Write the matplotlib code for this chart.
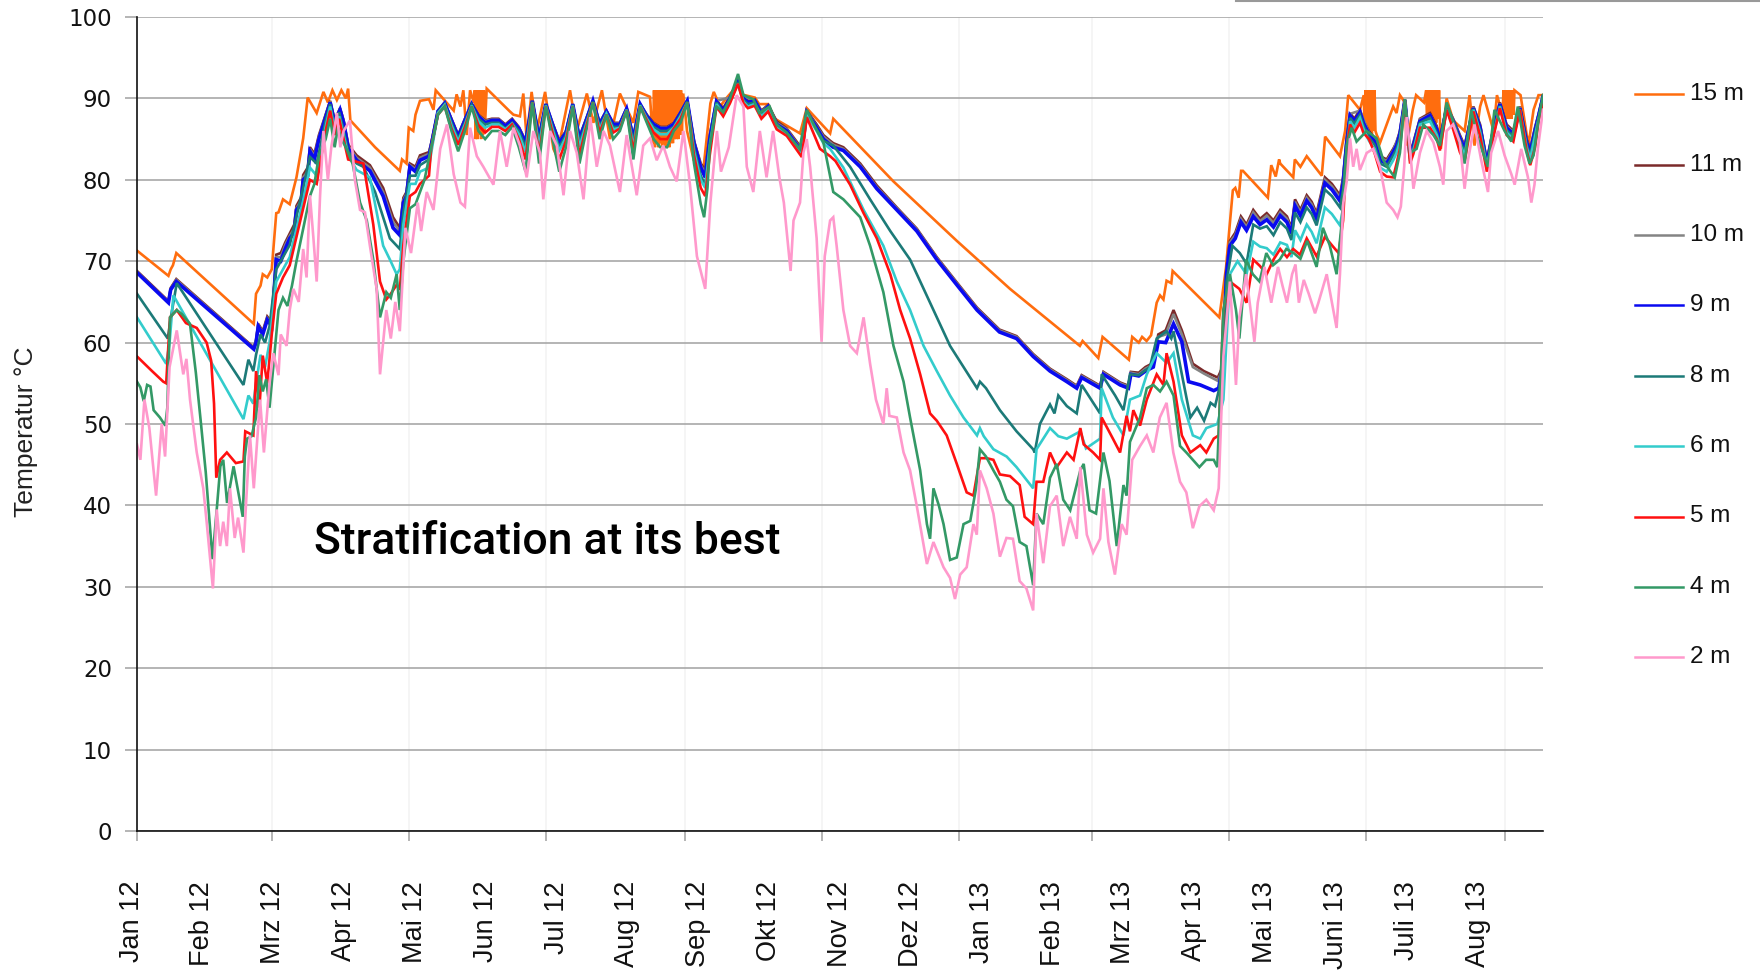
import matplotlib
matplotlib.use("Agg")
import matplotlib.pyplot as plt
from matplotlib.lines import Line2D
import matplotlib.transforms as mtransforms

# measured temperatures, (day since 1 Jan 2012, deg C)
s15 = [(0, 71.3), (14, 68.2), (15, 69.0), (16, 69.5), (17.5, 71.0), (52, 62.3), (53, 66.0), (55, 67.0), (56, 68.4),
       (58, 68.0), (60, 69.0), (62, 75.9), (63, 76.0), (65, 77.6), (68, 77.0), (71, 80.3), (74, 85.1), (76, 90.1),
       (80, 88.2), (83, 90.8), (85, 89.5), (87, 91.0), (89, 89.8), (91, 91.0), (93, 90.0), (94, 91.2), (95, 87.3),
       (101, 85.5), (106, 84.0), (117, 81.1), (118, 82.5), (120, 82.0), (121, 86.4), (123, 86.0), (124, 88.0),
       (126, 89.7), (130, 89.9), (132, 88.6), (133, 91.0), (139.4, 89.0), (141, 88.5), (142.3, 90.5), (144, 89.0),
       (145.3, 91.0), (146.8, 85.5), (148.3, 91.0), (150, 89.5), (150.4, 91.0), (150.8, 85.0), (151.2, 91.0),
       (151.6, 85.0), (152.0, 91.0), (152.4, 85.5), (152.8, 91.0), (153.2, 85.0), (153.6, 91.0), (154.0, 85.5),
       (154.4, 91.0), (154.8, 86.0), (155.7, 91.2), (166, 88.4), (167.6, 88.0), (170.5, 87.8), (172, 90.6),
       (173.5, 85.0), (175.7, 90.8), (178, 86.0), (181.7, 90.8), (185.4, 83.8), (186.9, 82.9), (192.8, 91.0),
       (195.8, 86.0), (200.3, 90.6), (203.2, 87.0), (207, 91.0), (210.6, 85.0), (215, 90.6), (221, 87.0),
       (223.2, 90.8), (228.4, 90.2), (229.8, 84.5), (230.2, 91.0), (230.6, 84.0), (231.0, 91.0), (231.4, 84.5),
       (231.8, 91.0), (232.2, 84.0), (232.6, 91.0), (233.0, 84.5), (233.4, 91.0), (233.8, 84.0), (234.2, 91.0),
       (234.6, 84.5), (235.0, 91.0), (235.4, 84.0), (235.8, 91.0), (236.2, 84.5), (236.6, 91.0), (237.0, 84.0),
       (237.4, 91.0), (237.8, 84.5), (238.2, 91.0), (238.6, 84.5), (239.0, 91.0), (239.4, 85.0), (239.8, 91.0),
       (240.2, 85.0), (240.6, 91.0), (241.0, 85.0), (241.4, 91.0), (241.8, 85.5), (242.2, 91.0), (242.6, 86.0),
       (243.2, 90.6), (244.9, 86.0), (247.9, 82.4), (252.3, 81.6), (255.3, 89.4), (256.8, 90.8), (259.6, 89.0),
       (262, 89.9), (267.6, 91.7), (269, 90.5), (275.1, 90.1), (277, 89.3), (281, 89.3), (284, 87.5),
       (295.2, 85.7), (298.2, 88.8), (308.6, 85.7), (310, 87.5), (336.8, 79.8), (365, 72.5), (388.7, 66.6),
       (419.8, 59.6), (421, 60.2), (428, 58.1), (429.9, 60.7), (441.6, 57.9), (443.1, 60.7), (446, 60.0),
       (447.5, 60.7), (449.5, 60.2), (451.5, 60.9), (454, 64.9), (455.5, 65.8), (457, 65.3), (458.4, 67.6),
       (460.5, 67.3), (461.1, 68.8), (481.9, 63.1), (483.4, 66.2), (484.9, 69.3), (486.4, 74.1), (487.9, 78.7),
       (489, 79.0), (490.5, 77.8), (491.6, 81.1), (492.4, 81.1), (503.5, 77.8), (505, 81.8), (507, 80.4),
       (508.5, 82.5), (509, 82.0), (514.8, 80.3), (515.5, 82.5), (518, 81.6), (520.8, 82.9), (527.5, 80.5),
       (529, 85.3), (535.6, 82.9), (537.9, 86.0), (539.3, 90.4), (544.5, 88.6), (546.2, 90.4), (546.6, 86.0),
       (547.0, 91.0), (547.4, 85.5), (547.8, 91.0), (548.2, 85.5), (548.6, 91.0), (549.0, 85.5), (549.4, 91.0),
       (549.8, 85.5), (550.2, 91.0), (550.6, 86.0), (551.0, 91.0), (551.4, 86.0), (552, 85.5), (553.5, 84.6),
       (556.4, 86.8), (559.3, 89.0), (560.8, 88.2), (562.3, 90.4), (564.5, 89.5), (565.3, 84.2), (568, 88.6),
       (569.5, 90.4), (573, 89.5), (574.0, 91.0), (574.4, 87.0), (574.8, 91.0), (575.2, 87.0), (575.6, 91.0),
       (576.0, 87.0), (576.4, 91.0), (576.8, 87.0), (577.2, 91.0), (577.6, 87.0), (578.0, 91.0), (578.4, 87.0),
       (578.8, 91.0), (579.2, 87.5), (579.7, 91.0), (580.5, 83.8), (583.1, 90.0), (586, 87.3), (591.1, 86.0),
       (593.3, 90.4), (595.5, 84.2), (598, 89.0), (599.5, 90.4), (604, 86.0), (605.5, 90.4), (608.0, 88.0),
       (608.4, 91.0), (608.8, 87.5), (609.2, 91.0), (609.6, 87.5), (610.0, 91.0), (610.4, 87.5), (610.8, 91.0),
       (611.2, 87.5), (611.6, 91.0), (612.0, 87.5), (612.4, 91.0), (612.9, 88.0), (613.3, 91.0), (616, 90.4),
       (619.5, 84.2), (621.8, 88.6), (624, 90.4), (626, 90.4)]

s11 = [(0, 68.8), (14, 65.1), (15, 66.7), (17.5, 67.8), (52, 59.4), (53, 60.3), (54, 62.3), (56, 61.4), (58, 63.2),
       (60, 62.5), (62, 70.8), (64, 71.0), (66, 72.3), (68, 73.4), (70, 74.5), (71, 76.8), (73, 77.8), (74, 80.6),
       (76, 81.5), (77, 84.0), (79, 83.2), (81, 85.5), (84, 88.0), (86, 89.7), (88, 87.3), (90.4, 88.8), (92, 87.3),
       (94.1, 84.3), (97.8, 83.0), (103.7, 81.8), (109.6, 79.0), (114, 75.4), (117, 74.1), (118.6, 77.8),
       (120, 78.5), (121.5, 82.0), (124, 81.6), (126, 83.0), (130, 83.4), (131, 84.5), (134, 88.5), (137, 89.5),
       (140, 87.5), (143, 85.5), (146, 87.5), (149, 89.3), (152, 88.0), (155, 87.3), (158, 87.5), (161, 87.5),
       (164, 86.8), (167, 87.5), (170, 86.5), (173, 84.8), (176, 89.7), (179, 85.3), (182, 89.3), (185, 87.0),
       (188, 84.8), (191, 86.0), (194, 89.3), (197, 85.3), (200, 87.5), (203, 89.7), (206, 87.0), (209, 88.5),
       (212, 87.0), (215, 87.0), (218, 88.8), (221, 85.3), (224, 89.3), (227, 88.0), (230, 87.0), (233, 86.5),
       (236, 86.5), (239, 87.0), (242, 88.3), (245, 89.7), (248, 84.8), (251, 82.0), (253, 81.2), (255, 85.5),
       (258, 89.7), (261, 88.8), (264, 90.2), (267.6, 92.2), (270, 90.3), (272, 89.7), (275, 89.9), (278, 88.5),
       (281, 89.2), (284.8, 87.2), (289.3, 86.3), (294.5, 84.4), (296, 84.0), (298.2, 88.5), (302.6, 86.8),
       (305.6, 85.5), (308.6, 84.8), (310, 84.5), (314.5, 84.0), (322, 82.0), (329.4, 79.3), (338.3, 76.6),
       (347.2, 74.0), (356.1, 70.5), (365, 67.4), (374, 64.3), (384, 61.6), (391.6, 60.8), (399, 58.6),
       (406.5, 56.8), (414, 55.5), (418.4, 54.7), (420.6, 56.0), (428.8, 54.7), (430.3, 56.4), (437.7, 55.1),
       (441.4, 54.7), (442.5, 56.4), (446, 56.3), (449, 57.0), (452.5, 57.5), (454.7, 61.0), (458, 61.5),
       (461.5, 64.0), (465.2, 61.5), (470.1, 57.4), (475, 56.5), (481.2, 55.7), (483, 56.8), (485, 69.0),
       (486.6, 72.5), (489, 73.5), (491.5, 75.5), (494, 74.5), (497, 76.3), (500, 75.2), (503, 75.9), (506, 75.0),
       (509, 76.3), (512, 75.5), (514, 74.1), (515.6, 77.6), (518, 76.3), (520.8, 78.1), (523, 77.3),
       (525.2, 75.9), (528.9, 80.3), (532, 79.5), (535.6, 78.1), (537, 80.3), (538.6, 85.1), (540.1, 88.2),
       (542, 87.5), (544.5, 88.6), (546, 87.3), (548.5, 86.0), (551, 85.1), (553.5, 82.9), (556.4, 82.5),
       (559.3, 83.8), (560.8, 84.6), (562.3, 86.0), (564.5, 89.9), (566.8, 83.3), (568.3, 84.6), (571.2, 87.5),
       (575.7, 88.2), (578.7, 86.6), (580.1, 85.1), (583.1, 89.0), (586, 87.5), (589, 85.5), (591.1, 84.2),
       (595, 89.0), (598, 86.8), (601, 82.4), (604, 86.5), (606.8, 89.5), (609.8, 86.8), (612.8, 86.0),
       (615.7, 89.0), (618.7, 85.0), (620.3, 83.8), (622.5, 86.5), (624, 88.0), (626, 90.4)]

s10 = [(0, 68.7), (14, 65.0), (15, 66.6), (17.5, 67.7), (52, 59.3), (53, 60.2), (54, 62.2), (56, 61.2), (58, 63.0),
       (60, 62.3), (62, 70.5), (64, 70.5), (66, 72.0), (68, 73.1), (70, 74.0), (71, 76.5), (73, 77.4), (74, 80.3),
       (76, 81.0), (77, 83.8), (79, 82.9), (81, 85.3), (84, 87.9), (86, 89.6), (88, 87.2), (90.4, 88.7), (92, 87.2),
       (94.1, 84.1), (97.8, 82.7), (103.7, 81.5), (109.6, 78.5), (114, 74.8), (117, 73.7), (118.6, 77.5),
       (120, 78.3), (121.5, 81.8), (124, 81.3), (126, 82.7), (130, 83.2), (131, 84.4), (134, 88.5), (137, 89.5),
       (140, 87.4), (143, 85.4), (146, 87.4), (149, 89.3), (152, 87.9), (155, 87.2), (158, 87.4), (161, 87.4),
       (164, 86.7), (167, 87.4), (170, 86.4), (173, 84.7), (176, 89.7), (179, 85.2), (182, 89.3), (185, 86.9),
       (188, 84.7), (191, 85.9), (194, 89.3), (197, 85.2), (200, 87.4), (203, 89.7), (206, 86.9), (209, 88.5),
       (212, 86.9), (215, 86.9), (218, 88.8), (221, 85.2), (224, 89.3), (227, 87.9), (230, 86.9), (233, 86.4),
       (236, 86.4), (239, 86.9), (242, 88.3), (245, 89.7), (248, 84.7), (251, 81.8), (253, 80.8), (255, 85.3),
       (258, 89.7), (264, 90.1), (267.6, 92.1), (270, 90.2), (275, 89.8), (278, 88.4), (281, 89.1), (284.8, 87.0),
       (289.3, 86.2), (294.5, 84.2), (296, 83.8), (298.2, 88.4), (302.6, 86.6), (305.6, 85.3), (310, 84.3),
       (314.5, 83.8), (322, 81.8), (329.4, 79.1), (338.3, 76.5), (347.2, 73.9), (356.1, 70.4), (365, 67.3),
       (374, 64.2), (384, 61.5), (391.6, 60.7), (399, 58.5), (406.5, 56.7), (414, 55.4), (418.4, 54.6),
       (420.6, 55.9), (428.8, 54.6), (430.3, 56.3), (437.7, 55.0), (441.4, 54.6), (442.5, 56.3), (446, 56.1),
       (449, 56.8), (452.5, 57.3), (454.7, 60.7), (458, 61.0), (461.5, 63.5), (465.2, 61.0), (470.1, 57.0),
       (475, 56.2), (481.2, 55.3), (483, 56.5), (485, 68.8), (486.6, 72.3), (489, 73.2), (491.5, 75.2),
       (494, 74.2), (497, 76.0), (500, 74.9), (503, 75.6), (506, 74.7), (509, 76.0), (512, 75.2), (514, 73.8),
       (515.6, 77.3), (518, 76.0), (520.8, 77.8), (523, 77.0), (525.2, 75.6), (528.9, 80.0), (532, 79.2),
       (535.6, 77.8), (537, 80.0), (538.6, 84.9), (540.1, 88.1), (544.5, 88.5), (548.5, 85.8), (551, 84.9),
       (553.5, 82.7), (556.4, 82.3), (559.3, 83.6), (562.3, 85.8), (564.5, 89.9), (566.8, 83.1), (568.3, 84.4),
       (571.2, 87.4), (575.7, 88.0), (578.7, 86.4), (580.1, 84.9), (583.1, 88.9), (586, 87.4), (589, 85.3),
       (591.1, 84.0), (595, 88.9), (598, 86.6), (601, 82.2), (604, 86.3), (606.8, 89.4), (609.8, 86.6),
       (612.8, 85.8), (615.7, 88.9), (618.7, 84.8), (620.3, 83.6), (622.5, 86.3), (624, 87.9), (626, 90.3)]

s9 = [(0, 68.6), (14, 64.9), (15, 66.5), (17.5, 67.5), (52, 59.2), (53, 60.0), (54, 62.0), (56, 61.0), (58, 62.8),
      (60, 62.0), (62, 70.2), (64, 70.0), (66, 71.5), (68, 72.8), (70, 73.5), (71, 76.3), (73, 77.0), (74, 80.0),
      (76, 80.5), (77, 83.5), (79, 82.5), (81, 85.0), (84, 87.7), (86, 89.5), (88, 87.0), (90.4, 88.6), (92, 87.0),
      (94.1, 83.8), (97.8, 82.4), (103.7, 81.1), (109.6, 78.0), (114, 74.1), (117, 73.2), (118.6, 77.2),
      (120, 78.0), (121.5, 81.6), (124, 81.0), (126, 82.4), (130, 82.9), (131, 84.2), (134, 88.4), (137, 89.4),
      (140, 87.3), (143, 85.3), (146, 87.3), (149, 89.3), (152, 87.8), (155, 87.0), (158, 87.3), (161, 87.3),
      (164, 86.6), (167, 87.3), (170, 86.3), (173, 84.5), (176, 89.7), (179, 85.0), (182, 89.3), (185, 86.8),
      (188, 84.5), (191, 85.8), (194, 89.3), (197, 85.0), (200, 87.3), (203, 89.7), (206, 86.8), (209, 88.4),
      (212, 86.8), (215, 86.8), (218, 88.7), (221, 85.0), (224, 89.3), (227, 87.8), (230, 86.8), (233, 86.3),
      (236, 86.3), (239, 86.8), (242, 88.2), (245, 89.7), (248, 84.5), (251, 81.5), (253, 80.3), (255, 85.0),
      (258, 89.6), (261, 88.5), (264, 90.0), (267.6, 92.0), (270, 90.0), (272, 89.5), (275, 89.7), (278, 88.2),
      (281, 89.0), (284.8, 86.8), (289.3, 86.0), (294.5, 84.0), (296, 83.5), (298.2, 88.3), (302.6, 86.4),
      (305.6, 85.0), (308.6, 84.3), (310, 84.0), (314.5, 83.6), (322, 81.6), (329.4, 78.9), (338.3, 76.3),
      (347.2, 73.7), (356.1, 70.2), (365, 67.1), (374, 64.0), (384, 61.3), (391.6, 60.5), (399, 58.3),
      (406.5, 56.5), (414, 55.2), (418.4, 54.4), (420.6, 55.7), (428.8, 54.4), (430.3, 56.1), (437.7, 54.8),
      (441.4, 54.4), (442.5, 56.1), (446, 55.9), (449, 56.5), (452.5, 57.0), (454.7, 60.1), (458, 60.0),
      (461.5, 62.3), (465.2, 60.1), (468.2, 55.2), (473.4, 54.8), (479.4, 54.1), (481.6, 54.4), (483.5, 57.4),
      (485.1, 68.4), (486.6, 71.9), (489, 72.8), (491.5, 74.8), (494, 73.8), (497, 75.5), (500, 74.5),
      (503, 75.1), (506, 74.2), (509, 75.6), (512, 74.8), (514, 73.4), (515.6, 76.8), (518, 75.6), (520.8, 77.4),
      (523, 76.6), (525.2, 75.2), (528.9, 79.6), (532, 78.8), (535.6, 77.4), (537, 79.6), (538.6, 84.6),
      (540.1, 87.9), (542, 87.2), (544.5, 88.3), (546, 87.0), (548.5, 85.6), (551, 84.7), (553.5, 82.4),
      (556.4, 82.0), (559.3, 83.4), (560.8, 84.2), (562.3, 85.6), (564.5, 89.8), (566.8, 82.9), (568.3, 84.2),
      (571.2, 87.2), (575.7, 87.9), (578.7, 86.2), (580.1, 84.7), (583.1, 88.8), (586, 87.2), (589, 85.1),
      (591.1, 83.8), (595, 88.8), (598, 86.4), (601, 82.0), (604, 86.1), (606.8, 89.3), (609.8, 86.4),
      (612.8, 85.6), (615.7, 88.8), (618.7, 84.6), (620.3, 83.4), (622.5, 86.1), (624, 87.8), (626, 90.2)]

s8 = [(0, 66.0), (13.7, 60.5), (15, 63.0), (17.7, 67.3), (47.4, 54.8), (49.6, 57.9), (51.8, 56.5), (53, 58.5),
      (55, 61.0), (57, 60.0), (59, 62.0), (62, 69.0), (65, 70.5), (68, 72.0), (71, 75.5), (74, 79.0), (77, 82.8),
      (80, 82.0), (84, 87.3), (86, 89.3), (88, 86.5), (90, 88.3), (92, 86.0), (94, 83.5), (97.8, 82.0),
      (100.8, 81.6), (106, 78.5), (112.6, 72.8), (115.6, 71.9), (117, 71.5), (118.6, 76.0), (121.5, 80.5),
      (124, 80.5), (126, 81.8), (130, 82.5), (131, 83.8), (134, 88.3), (137, 89.3), (140, 87.0), (143, 85.0),
      (146, 87.0), (149, 89.2), (152, 87.5), (155, 86.8), (158, 87.0), (161, 87.0), (164, 86.3), (167, 87.0),
      (170, 86.0), (173, 84.0), (176, 89.6), (179, 84.6), (182, 89.2), (185, 86.5), (188, 84.0), (191, 85.5),
      (194, 89.2), (197, 84.6), (200, 87.0), (203, 89.6), (206, 86.5), (209, 88.2), (212, 86.5), (215, 86.5),
      (218, 88.6), (221, 84.6), (224, 89.2), (227, 87.6), (230, 86.5), (233, 86.0), (236, 86.0), (239, 86.5),
      (242, 88.0), (245, 89.6), (248, 84.0), (251, 80.5), (253, 79.4), (255, 84.5), (258, 89.5), (261, 88.3),
      (264, 89.8), (267.6, 92.0), (270, 89.8), (272, 89.3), (275, 89.5), (278, 88.0), (281, 88.8), (284.8, 86.6),
      (289.3, 85.8), (294.5, 83.8), (296, 83.3), (298.2, 88.2), (302.6, 86.2), (305.6, 84.8), (308.6, 84.4),
      (310, 84.2), (317.5, 81.6), (326.4, 77.6), (335.4, 73.7), (344.2, 70.2), (353.1, 64.9), (362, 59.6),
      (368, 57.0), (374, 54.4), (375.3, 55.2), (378, 54.4), (384.2, 51.7), (391.6, 49.1), (399, 46.9),
      (399.7, 46.5), (402, 50.0), (406.5, 52.4), (408.5, 51.3), (410.2, 53.5), (414, 52.2), (418.4, 51.3),
      (420.6, 54.8), (428.8, 51.3), (429.5, 56.1), (435.5, 53.5), (439.2, 51.7), (442.1, 56.1), (446, 56.0),
      (451, 57.0), (454, 60.5), (458.4, 61.4), (460.5, 60.5), (461.5, 61.4), (465.2, 56.1), (469, 50.8),
      (472, 52.0), (475.1, 50.4), (478, 52.6), (480, 52.2), (481.9, 54.4), (484, 60.0), (485.1, 67.5),
      (487.7, 71.9), (491, 71.0), (494, 69.7), (497, 74.5), (500, 74.0), (503, 74.3), (506, 73.2), (509, 74.8),
      (512, 74.0), (514, 72.6), (515.6, 76.0), (518, 74.8), (520.8, 76.6), (523, 75.8), (525.2, 74.4),
      (528.9, 78.8), (532, 78.0), (535.6, 76.6), (537, 78.8), (538.6, 84.2), (540.1, 87.6), (542, 86.9),
      (544.5, 88.0), (546, 86.7), (548.5, 85.2), (551, 84.3), (553.5, 82.0), (556.4, 81.6), (559.3, 83.0),
      (560.8, 83.8), (562.3, 85.2), (564.5, 89.8), (566.8, 82.6), (568.3, 83.9), (571.2, 87.0), (575.7, 87.6),
      (578.7, 85.8), (580.1, 84.4), (583.1, 88.7), (586, 86.9), (589, 84.8), (591.1, 83.4), (595, 88.7),
      (598, 86.1), (601, 81.8), (604, 85.8), (606.8, 89.1), (609.8, 86.1), (612.8, 85.3), (615.7, 88.7),
      (618.7, 84.3), (620.3, 83.0), (622.5, 85.8), (624, 87.6), (626, 90.0)]

s6 = [(0, 63.1), (13, 57.4), (14.5, 60.0), (16.2, 65.8), (47.4, 50.6), (49.6, 53.5), (51.8, 52.5), (53, 55.0),
      (55, 58.5), (57, 57.0), (59, 60.0), (62, 67.5), (65, 69.0), (68, 70.5), (71, 74.0), (74, 77.5), (77, 81.5),
      (80, 80.5), (84, 86.5), (86, 89.0), (88, 86.0), (90, 87.8), (92, 85.5), (94, 83.0), (97.8, 81.2),
      (103.7, 80.3), (106, 77.0), (109.6, 71.9), (112.6, 70.2), (115.6, 68.4), (117, 69.0), (118.6, 74.5),
      (121.5, 79.5), (124, 79.5), (126, 81.0), (130, 81.5), (131, 83.3), (134, 88.2), (137, 89.2), (140, 86.7),
      (143, 84.7), (146, 86.8), (149, 89.1), (152, 87.2), (155, 86.4), (158, 86.8), (161, 86.8), (164, 86.2),
      (167, 86.9), (170, 85.6), (173, 83.4), (176, 89.5), (179, 84.0), (182, 89.1), (185, 86.2), (188, 83.6),
      (191, 85.2), (194, 89.1), (197, 84.0), (200, 86.8), (203, 89.5), (206, 86.2), (209, 88.1), (212, 86.2),
      (215, 86.4), (218, 88.6), (221, 84.0), (224, 89.1), (227, 87.5), (230, 86.2), (233, 85.6), (236, 85.6),
      (239, 86.4), (242, 87.8), (245, 89.5), (248, 83.5), (251, 80.0), (253, 79.0), (255, 84.0), (258, 89.3),
      (261, 88.0), (264, 89.6), (267.6, 91.8), (270, 89.6), (272, 89.0), (275, 89.3), (278, 87.8), (281, 88.6),
      (284.8, 86.4), (289.3, 85.6), (294.5, 83.6), (296, 83.0), (298.2, 88.0), (302.6, 86.0), (305.6, 84.5),
      (308.6, 83.8), (314.5, 81.5), (323.5, 76.3), (332.3, 71.9), (338.3, 67.5), (344.2, 64.0), (350.2, 59.6),
      (356.1, 56.5), (362, 53.5), (368, 50.8), (374, 48.6), (375.3, 49.5), (377, 48.5), (381.3, 46.9),
      (387.2, 46.0), (391.6, 44.7), (399, 42.1), (400.5, 46.9), (406.5, 49.5), (410.2, 48.5), (414, 48.2),
      (420, 49.1), (422.5, 47.0), (428.8, 48.2), (429.5, 54.4), (434.5, 50.8), (439.2, 48.6), (442.1, 53.0),
      (446.6, 53.5), (449.6, 56.1), (454, 58.7), (458.4, 57.5), (461.5, 58.7), (465.2, 53.0), (470.1, 48.6),
      (473.4, 48.2), (476.1, 49.5), (481, 50.0), (483.7, 53.0), (486.6, 68.4), (490, 70.0), (494, 68.4),
      (497, 72.4), (500, 71.8), (503, 71.6), (506, 70.8), (509, 72.3), (512, 72.0), (514, 70.5), (515.6, 73.8),
      (518, 72.6), (520.8, 74.5), (523, 73.6), (525.2, 72.2), (528.9, 76.6), (532, 75.8), (535.6, 74.4),
      (537, 76.5), (538.6, 83.4), (540.1, 87.2), (542, 86.4), (544.5, 87.6), (546, 86.3), (548.5, 84.8),
      (551, 83.8), (553.5, 81.5), (556.4, 81.0), (559.3, 82.4), (560.8, 83.3), (562.3, 84.7), (564.5, 89.8),
      (566.8, 82.3), (568.3, 83.6), (571.2, 86.8), (575.7, 87.2), (578.7, 85.5), (580.1, 84.0), (583.1, 88.6),
      (586, 86.6), (589, 84.4), (591.1, 83.0), (595, 88.6), (598, 85.8), (601, 81.6), (604, 85.5), (606.8, 89.0),
      (609.8, 85.8), (612.8, 85.0), (615.7, 88.6), (618.7, 84.0), (620.3, 82.6), (622.5, 85.4), (624, 87.4),
      (626, 89.8)]

s5 = [(0, 58.3), (6.7, 56.5), (11.7, 55.2), (13, 55.0), (14.7, 63.1), (17.7, 64.0), (21.8, 62.4), (26.6, 61.8),
      (31, 60.0), (33, 57.8), (34.3, 52.5), (35.3, 43.4), (37, 45.6), (40, 46.5), (44, 45.2), (47.4, 45.4),
      (48.2, 49.1), (51.8, 48.6), (53, 56.5), (54.5, 52.0), (56, 58.4), (58, 55.0), (60, 61.0), (62, 66.0),
      (65, 68.0), (68, 69.5), (71, 73.0), (74, 76.5), (77, 80.0), (80, 79.5), (84, 86.0), (86, 88.5), (88, 85.5),
      (90, 87.5), (92, 85.0), (94, 82.5), (100.8, 82.0), (105.2, 74.5), (108.2, 67.5), (111, 65.3), (113, 66.0),
      (115.6, 67.1), (117, 66.5), (118.6, 72.0), (121.5, 78.0), (124, 78.5), (126, 79.5), (130, 80.5), (131, 84.0),
      (134, 88.0), (137, 89.0), (140, 86.3), (143, 84.3), (146, 86.5), (149, 89.0), (152, 86.7), (155, 85.8),
      (158, 86.5), (161, 86.5), (164, 86.0), (167, 86.8), (170, 85.0), (173, 82.5), (176, 89.5), (179, 83.0),
      (182, 89.0), (185, 85.8), (188, 82.5), (191, 84.8), (194, 89.0), (197, 83.0), (200, 86.5), (203, 89.5),
      (206, 85.8), (209, 88.0), (212, 85.8), (215, 86.3), (218, 88.5), (221, 83.5), (224, 89.0), (227, 87.3),
      (230, 85.8), (233, 85.0), (236, 85.0), (239, 86.3), (242, 87.5), (245, 89.5), (248, 83.0), (251, 79.0),
      (253, 78.0), (255, 83.0), (258, 89.0), (261, 87.8), (264, 89.4), (267.6, 91.8), (270, 89.4), (272, 88.8),
      (275, 89.1), (278, 87.5), (281, 88.4), (284.8, 86.2), (289.3, 85.4), (294.5, 83.4), (296, 82.8),
      (298.2, 87.7), (304.1, 83.8), (308.6, 82.9), (311, 82.3), (317.5, 79.4), (323.5, 75.9), (329.4, 72.8),
      (335.4, 68.4), (339.8, 64.0), (344.2, 60.5), (348.7, 56.1), (353.1, 51.3), (356.1, 50.4), (360.5, 48.6),
      (365, 45.1), (369.4, 41.6), (372.4, 41.2), (375.3, 45.8), (378.3, 45.8), (381.3, 45.6), (384.2, 43.8),
      (388.7, 43.6), (393, 42.5), (395.2, 38.6), (399, 37.7), (400.5, 42.9), (403.5, 42.9), (406.5, 46.5),
      (409.5, 44.7), (414, 46.5), (417, 45.6), (420, 49.5), (421.5, 47.5), (425.7, 46.5), (428.8, 45.6),
      (429.5, 50.8), (434.5, 48.2), (437.7, 46.5), (440.6, 51.0), (442.1, 49.1), (443.6, 51.7), (446.6, 49.8),
      (449.6, 53.0), (454, 56.1), (457, 54.8), (458.4, 58.7), (461.5, 55.2), (465.2, 48.6), (469, 46.5),
      (473.4, 47.4), (476.1, 46.5), (479.4, 48.2), (481.6, 48.6), (483.7, 64.0), (486.6, 67.5), (490.8, 66.6),
      (494, 64.9), (497, 70.2), (500, 69.4), (503, 68.4), (506, 70.2), (509, 71.5), (512, 70.5), (514.8, 71.5),
      (517.8, 70.8), (520.8, 72.8), (525.2, 70.6), (528.9, 73.0), (532.5, 71.8), (535, 71.0), (537, 75.0),
      (538.6, 83.8), (540.1, 86.8), (542, 85.8), (544.5, 87.0), (546, 85.8), (548.5, 85.0), (551, 83.3),
      (553.5, 81.0), (556.4, 80.4), (559.3, 80.3), (560.8, 82.0), (562.3, 83.8), (564.5, 89.8), (566.8, 82.0),
      (568.3, 83.2), (571.2, 86.4), (575.7, 86.4), (578.7, 85.0), (580.1, 83.6), (583.1, 88.6), (586, 86.2),
      (589, 83.4), (591.1, 82.2), (595, 88.4), (598, 85.4), (601, 81.0), (604, 85.4), (606.8, 88.8),
      (609.8, 85.5), (612.8, 84.7), (615.7, 88.6), (618.7, 83.6), (620.3, 81.8), (622.5, 84.0), (624, 87.2),
      (626, 89.6)]

s4 = [(0, 55.2), (1.5, 54.5), (3, 52.8), (4.5, 54.8), (6, 54.6), (7.4, 51.7), (10.2, 50.8), (12.6, 49.8),
      (13.5, 52.0), (14.7, 63.1), (17.7, 64.0), (20, 63.5), (23.6, 62.3), (26.2, 56.3), (28.5, 50.0), (30.6, 44.1),
      (33.6, 33.4), (35.5, 39.5), (37.1, 44.8), (38.4, 45.6), (40.1, 40.3), (43, 44.8), (45, 41.8), (47.1, 38.6),
      (48, 46.0), (49, 48.2), (51, 48.5), (53, 50.8), (54.5, 56.0), (56, 54.0), (57.5, 55.5), (59, 52.0),
      (61, 58.0), (63, 64.0), (65, 65.5), (67, 64.5), (69, 67.0), (71, 70.0), (74, 74.0), (77, 78.0), (79, 79.5),
      (81, 83.0), (84, 85.0), (86, 87.5), (88, 84.0), (89.5, 86.5), (91, 85.0), (93, 84.0), (96, 82.0),
      (99.3, 77.2), (102.3, 75.0), (105.2, 70.2), (108.2, 63.1), (111, 66.2), (113, 65.5), (115.6, 68.4),
      (117, 64.0), (118.6, 70.0), (121.5, 76.5), (124, 77.0), (126, 78.5), (128, 80.0), (131, 84.0), (134, 88.0),
      (137, 89.0), (140, 86.0), (143, 83.5), (146, 86.0), (149, 89.0), (152, 86.0), (155, 85.0), (158, 86.0),
      (161, 86.0), (164, 85.5), (167, 86.5), (170, 84.0), (173, 81.0), (176, 89.5), (179, 82.0), (182, 89.0),
      (185, 85.0), (188, 81.0), (191, 84.0), (194, 89.0), (197, 82.0), (200, 86.0), (203, 89.5), (206, 85.0),
      (209, 88.0), (212, 85.0), (215, 86.0), (218, 88.5), (221, 82.5), (224, 89.0), (227, 87.0), (230, 85.0),
      (233, 84.0), (236, 84.0), (239, 86.0), (242, 87.0), (245, 89.5), (248, 82.0), (251, 77.0), (252.5, 75.4),
      (254, 79.0), (255, 84.0), (258, 89.0), (261, 88.3), (264, 90.0), (267.6, 93.0), (270, 90.4), (274.4, 89.9),
      (277, 88.2), (281.7, 89.0), (284.8, 86.8), (289.3, 85.8), (295, 83.8), (298.2, 88.6), (302, 86.4),
      (305.6, 84.6), (310, 78.5), (314.5, 77.6), (322, 75.4), (326.4, 71.9), (332.3, 66.2), (336.8, 59.6),
      (341.3, 55.2), (344.2, 50.8), (348.7, 44.3), (351.7, 37.7), (353.1, 35.9), (354.6, 42.1), (357, 40.0),
      (359.1, 37.7), (362, 33.3), (365, 33.6), (368, 37.7), (371, 38.1), (373.5, 42.0), (375.3, 46.9), (378, 46.0),
      (381.3, 44.3), (384.2, 42.9), (387.1, 40.7), (390, 39.9), (393, 35.5), (396, 35.0), (399, 30.2),
      (400.5, 39.0), (403.5, 37.7), (406.5, 43.4), (409.5, 45.1), (412.4, 40.7), (415.5, 39.4), (420, 44.3),
      (421.5, 45.1), (424.1, 39.4), (427, 39.0), (430.3, 46.5), (433, 43.0), (436.2, 35.0), (439.2, 42.5),
      (440.6, 41.2), (442.1, 47.8), (446.6, 50.8), (449.6, 54.4), (452.5, 54.8), (455.5, 54.0), (458.4, 55.2),
      (461.5, 53.5), (464.4, 47.3), (467.2, 46.5), (470.1, 45.6), (473, 44.7), (476, 45.6), (479.4, 45.6),
      (481, 44.7), (483.7, 64.0), (486.6, 68.4), (489.3, 64.0), (490.8, 60.5), (493.8, 70.2), (496.8, 68.4),
      (499.8, 67.5), (502.8, 71.0), (505.8, 69.5), (508.8, 70.2), (511.7, 71.5), (515, 71.0), (518, 70.3),
      (521, 72.5), (525.2, 69.3), (528, 74.1), (531, 72.0), (534.1, 68.4), (536.3, 74.5), (538.6, 84.2),
      (540.8, 86.4), (543, 84.7), (547.5, 86.0), (551.9, 85.1), (554.9, 82.4), (557.9, 81.1), (560, 80.3),
      (562.3, 83.3), (564.5, 89.9), (566.8, 83.3), (569.7, 83.8), (572.7, 86.8), (577.2, 85.5), (580.1, 84.2),
      (583.1, 89.5), (587.5, 86.0), (591.1, 82.0), (594, 88.6), (597, 85.1), (601.5, 81.6), (604.4, 88.6),
      (608.9, 86.0), (611.9, 84.7), (614.8, 89.0), (617.8, 84.2), (620, 82.0), (621.8, 83.0), (624, 87.3),
      (626, 90.4)]

s2 = [(0, 47.5), (1.5, 45.6), (3.3, 53.0), (5.5, 49.5), (8.5, 41.2), (11, 50.0), (12.5, 46.0), (14.5, 57.0),
      (17.7, 61.5), (20.6, 56.1), (22, 58.0), (23.6, 53.0), (26.6, 46.5), (29.5, 42.1), (31, 38.0), (33.8, 29.8),
      (35.5, 39.5), (37, 35.0), (38.4, 38.0), (40, 35.0), (41.4, 42.1), (43.5, 36.0), (45, 38.5), (47.4, 34.2),
      (48.5, 40.0), (50.3, 48.6), (52, 42.1), (54.8, 53.0), (56.5, 46.5), (59, 55.0), (60.7, 58.7), (63, 56.0),
      (64, 61.0), (66.6, 59.6), (68, 64.0), (69.6, 66.6), (72, 65.0), (74, 71.5), (75.5, 68.0), (77, 78.1),
      (78.5, 73.0), (80, 67.5), (81.5, 78.0), (83, 86.0), (85, 80.0), (86.5, 84.0), (89, 88.2), (90.5, 84.0),
      (92, 86.0), (94.8, 87.3), (97, 80.0), (99.3, 76.3), (101.5, 76.0), (103.7, 71.9), (106.7, 66.6),
      (108.2, 56.1), (111, 64.0), (113, 60.5), (115, 65.0), (117, 61.4), (119.5, 74.1), (122, 71.0), (125, 77.2),
      (126.5, 73.7), (129, 78.5), (132, 76.3), (135, 83.8), (138, 86.8), (141, 80.7), (144, 77.2), (146, 76.7),
      (148.3, 86.4), (151.3, 82.9), (154.2, 81.6), (158.7, 79.4), (161.6, 86.0), (164.6, 81.6), (167.6, 86.4),
      (170.5, 84.2), (173.5, 80.3), (176.5, 86.0), (179.4, 83.3), (180.9, 77.6), (183.9, 86.0), (186.9, 84.2),
      (189.9, 78.1), (192.8, 86.0), (195.8, 83.3), (198.8, 77.6), (201.8, 87.7), (204.7, 81.6), (207.7, 86.0),
      (210.6, 84.2), (215, 78.5), (218, 85.5), (222.5, 78.1), (225.4, 84.2), (228.4, 85.1), (231.4, 82.4),
      (234.3, 84.2), (237.3, 81.6), (240.3, 79.8), (243.3, 86.0), (246.2, 79.4), (249.3, 70.6), (253, 66.6),
      (255.3, 77.2), (258.2, 86.0), (260, 81.0), (263.5, 84.0), (267, 90.4), (270, 89.0), (271.5, 81.6),
      (274.4, 78.5), (277.3, 86.0), (280.3, 80.3), (283.2, 86.0), (286, 80.3), (288, 77.2), (291, 68.8),
      (292.3, 75.0), (295.2, 77.2), (296.7, 83.3), (298.2, 85.0), (299.7, 81.6), (302.6, 72.8), (304.8, 60.1),
      (306.2, 70.6), (308.6, 75.0), (310, 75.4), (311.5, 71.9), (314.5, 64.0), (317.5, 59.6), (320.5, 58.7),
      (323.5, 63.1), (326.4, 57.4), (329, 53.0), (332.3, 50.0), (333.8, 54.4), (335, 51.0), (338.3, 50.8),
      (341.3, 46.5), (344.2, 44.3), (347.2, 39.9), (351.7, 32.8), (354.6, 35.5), (359.1, 32.4), (362, 31.1),
      (364.2, 28.5), (366.5, 31.5), (369.4, 32.4), (372.4, 37.7), (373.9, 36.4), (375.3, 44.3), (378.3, 42.1),
      (381.3, 39.0), (384.2, 33.7), (387.1, 36.0), (390, 35.9), (393, 30.7), (396, 29.8), (399, 27.1),
      (400.5, 39.0), (403.5, 32.9), (406.5, 39.9), (409.5, 41.2), (412.4, 35.0), (415.4, 38.6), (418.4, 35.9),
      (420, 44.7), (422.9, 36.4), (425.7, 34.2), (428.8, 35.9), (430.3, 42.1), (432.5, 35.5), (435.4, 31.5),
      (438.4, 37.7), (440.6, 36.4), (443.1, 45.6), (446.6, 47.3), (449.6, 48.6), (452.5, 46.5), (455.4, 50.8),
      (458.4, 52.6), (461.4, 46.5), (464.4, 42.9), (467.2, 41.6), (470.1, 37.2), (473, 39.9), (476.1, 40.7),
      (479.4, 39.4), (481.6, 42.1), (483.7, 58.3), (486.6, 67.5), (489.3, 54.8), (490.8, 63.1), (493.8, 68.4),
      (496, 63.6), (497.5, 60.1), (499, 64.9), (502, 69.3), (505, 64.9), (508, 69.3), (510, 67.0), (512, 64.9),
      (514.3, 68.4), (515.8, 69.6), (517.3, 64.9), (519.5, 67.7), (521.7, 66.0), (524.5, 63.6), (526, 64.9),
      (529.7, 68.4), (532.6, 64.0), (534.1, 61.8), (535.6, 68.4), (537.1, 77.2), (538.6, 79.8), (540.1, 85.1),
      (541.5, 81.6), (543, 83.8), (544.5, 81.2), (547.5, 83.3), (550.4, 83.8), (553.4, 81.6), (556.4, 77.2),
      (559.3, 76.3), (561.2, 75.4), (562.7, 76.7), (564.2, 81.6), (565.3, 87.7), (566.8, 83.8), (568.3, 78.9),
      (571.2, 83.3), (574.2, 86.0), (577.2, 84.6), (580.1, 81.6), (581.6, 79.4), (583.1, 86.0), (586, 86.8),
      (589, 84.6), (591.1, 78.9), (592.6, 82.4), (595.5, 86.8), (598.5, 82.4), (601.5, 78.5), (602.9, 83.3),
      (606, 86.0), (608.9, 83.0), (611.9, 80.7), (613.4, 79.4), (616.3, 83.8), (619.3, 80.3), (620.8, 77.2),
      (622.2, 79.4), (623.7, 83.8), (626, 88.6)]

labels = ["15 m", "11 m", "10 m", "9 m", "8 m", "6 m", "5 m", "4 m", "2 m"]
colors = ["#ff6d0e", "#7b2a2a", "#848484", "#0a0af0", "#1c7a78", "#33cccc", "#ff1010", "#339966", "#ff99cc"]
series = [s15, s11, s10, s9, s8, s6, s5, s4, s2]

months = ["Jan 12", "Feb 12", "Mrz 12", "Apr 12", "Mai 12", "Jun 12", "Jul 12", "Aug 12", "Sep 12", "Okt 12",
          "Nov 12", "Dez 12", "Jan 13", "Feb 13", "Mrz 13", "Apr 13", "Mai 13", "Juni 13", "Juli 13", "Aug 13"]
tick_days = [0, 60, 121, 182, 244, 305, 366, 425, 486, 547, 609]

plt.rcParams['font.family'] = ['Liberation Sans', 'DejaVu Sans']

W, H = 1760, 973
fig = plt.figure(figsize=(W / 100, H / 100), dpi=100)
ax = fig.add_axes([137 / W, 1 - 831 / H, 1406 / W, 814 / H])

for pts, col, lab in zip(series, colors, labels):
    x, y = zip(*pts)
    lw = 2.6 if lab == "9 m" else 1.9
    ax.plot(x, y, color=col, lw=lw, solid_joinstyle="miter")

ax.set_xlim(0, 626)
ax.set_ylim(0, 100)
ax.set_yticks(range(0, 101, 10))
ax.set_yticklabels([str(v) for v in range(0, 101, 10)], family="DejaVu Sans", fontsize=16.5, color="#111111")
ax.set_xticks(tick_days)
ax.set_xticklabels([])
ax.yaxis.grid(True, color="#a8a8a8", lw=1.2)
ax.xaxis.grid(True, color="#f3f3f3", lw=1.2)
ax.set_axisbelow(True)
for side in ["top", "right"]:
    ax.spines[side].set_visible(False)
ax.spines["left"].set_color("#111111")
ax.spines["bottom"].set_color("#111111")
ax.spines["left"].set_linewidth(1.2)
ax.spines["bottom"].set_linewidth(1.2)
ax.tick_params(axis="y", length=9, width=1.2, color="#a8a8a8", pad=9)
ax.tick_params(axis="x", length=7, width=1.2, color="#a8a8a8")

# month labels, evenly spaced like the original export
trans = mtransforms.blended_transform_factory(ax.transData, fig.transFigure)
for i, m in enumerate(months):
    ax.text(-2.4 + 31.54 * i, 1 - 881 / H, m, transform=trans, rotation=90, ha="center", va="top",
            fontsize=19.5, color="#111111")

# legend at the right
for i, (lab, col) in enumerate(zip(labels, colors)):
    yy = 1 - (94.4 + 70.35 * i) / H
    fig.add_artist(Line2D([1635 / W, 1683 / W], [yy, yy], color=col, lw=1.8))
    fig.text(1690 / W, yy, lab, ha="left", va="center", fontsize=17.5, color="#111111")

fig.text(26 / W, 1 - 432 / H, "Temperatur °C", rotation=90, ha="center", va="center", fontsize=19,
         color="#222222")
fig.text(547 / W, 1 - 542 / H, "Stratification at its best", ha="center", va="center", fontsize=32,
         color="black", family=["Roboto", "Liberation Sans"], weight="medium")

fig.add_artist(Line2D([1236 / W, 1], [1 - 1 / H, 1 - 1 / H], color="#999999", lw=1.5))

fig.savefig("out.png", dpi=100)
